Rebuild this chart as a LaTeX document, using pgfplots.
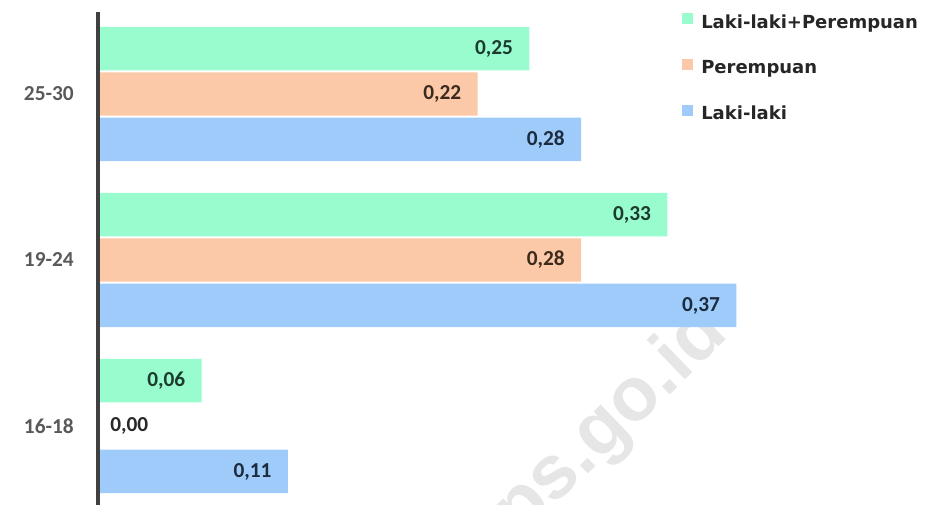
\documentclass[border=0pt]{standalone}
\usepackage{fontspec}
\setmainfont{Carlito}
\newfontfamily\legendfont{DejaVu Sans}
\newfontfamily\markfont{Liberation Sans}
\usepackage{pgfplots}
\usepackage{pgfplotstable}
\pgfplotsset{compat=1.18}

\definecolor{barGreen}{RGB}{153,252,207}
\definecolor{barOrange}{RGB}{251,201,168}
\definecolor{barBlue}{RGB}{158,203,250}
\definecolor{lblGreen}{RGB}{28,60,46}
\definecolor{lblOrange}{RGB}{60,42,30}
\definecolor{lblBlue}{RGB}{28,44,62}
\definecolor{lblZero}{RGB}{40,40,40}
\definecolor{catGray}{RGB}{89,89,89}
\definecolor{axisGray}{RGB}{64,64,64}
\definecolor{legendText}{RGB}{38,38,38}
\definecolor{wmGray}{RGB}{230,230,230}

% age group index: 0 = 16-18, 1 = 19-24, 2 = 25-30
\pgfplotstableread{
grp val
2 0.25
1 0.33
0 0.06
}\totaltab
\pgfplotstableread{
grp val
2 0.22
1 0.28
}\femaletab
\pgfplotstableread{
grp val
0 0.00
}\femalezerotab
\pgfplotstableread{
grp val
2 0.28
1 0.37
0 0.11
}\maletab

\begin{document}
\begin{tikzpicture}
\begin{axis}[
  scale only axis,
  width=621pt, height=369.75pt,
  xmin=0, xmax=0.48,
  ymin=-0.476, ymax=2.494,
  xbar, bar width=32.6pt,
  axis x line=none,
  axis y line*=left,
  y axis line style={draw=none},
  ytick={0,1,2},
  yticklabels={16-18,19-24,25-30},
  major tick length=0pt,
  yticklabel style={font=\bfseries\fontsize{16}{18}\selectfont, text=catGray,
    inner sep=0pt, xshift=-18pt},
  point meta=x,
  nodes near coords={\pgfmathprintnumber[fixed,fixed zerofill,precision=2,use comma,assume math mode=true]{\pgfplotspointmeta}},
  every node near coord/.append style={font=\bfseries\fontsize{16}{18}\selectfont,
    anchor=east, inner sep=0pt, xshift=-12pt},
  legend style={at={(rel axis cs:0.7053,1)}, anchor=north west, yshift=-0.75pt,
    draw=none, fill=none, inner sep=0pt, row sep=20pt, column sep=6pt,
    nodes={inner sep=0pt, text height=10pt, text depth=3pt,
      font=\legendfont\bfseries\fontsize{13.5}{15}\selectfont, text=legendText}},
  legend cell align=left,
  legend image code/.code={\fill[#1] (0pt,-0.5pt) rectangle (8.25pt,7.75pt);},
  clip=false,
]
\node[rotate=44, text=wmGray, font=\markfont\bfseries\fontsize{57}{60}\selectfont]
  at (axis cs:0.2880,-0.084) {bps.go.id};

\addplot[fill=barGreen, draw=none, bar shift=34.1pt,
  every node near coord/.append style={text=lblGreen}]
  table[x=val, y=grp] {\totaltab};
\addplot[fill=barOrange, draw=none, bar shift=0pt,
  every node near coord/.append style={text=lblOrange}]
  table[x=val, y=grp] {\femaletab};
\addplot[fill=barBlue, draw=none, bar shift=-34.1pt,
  every node near coord/.append style={text=lblBlue}]
  table[x=val, y=grp] {\maletab};
\addplot[fill=barOrange, draw=none, bar shift=0pt, forget plot,
  every node near coord/.append style={text=lblZero, anchor=west, xshift=21pt}]
  table[x=val, y=grp] {\femalezerotab};

\legend{Laki-laki+Perempuan, Perempuan, Laki-laki}

% the single vertical axis line at x = 0
\draw[axisGray, line width=2.4pt] (rel axis cs:0,0) -- (rel axis cs:0,1);

\coordinate (bl) at (rel axis cs:0,0);
\coordinate (tr) at (rel axis cs:1,1);
\end{axis}
\pgfresetboundingbox
\useasboundingbox ([xshift=-73.5pt]bl) rectangle ([yshift=9pt]tr);
\end{tikzpicture}
\end{document}
